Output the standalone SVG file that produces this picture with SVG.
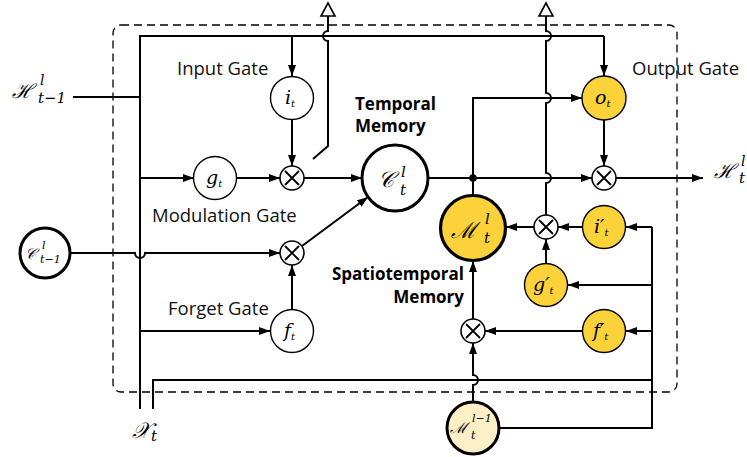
<svg xmlns="http://www.w3.org/2000/svg" width="747" height="457" viewBox="0 0 747 457">
<style>
.ln{fill:none;stroke:#000;stroke-width:2}
.ar{marker-end:url(#ah)}
.g{fill:#fff;stroke:#000;stroke-width:1.4}
.gy{fill:#FCD23A;stroke:#000;stroke-width:1.4}
.big{fill:#fff;stroke:#000;stroke-width:3}
.bigy{fill:#FCD23A;stroke:#000;stroke-width:3.2}
.lab{font-family:"Open Sans","Liberation Sans",sans-serif;font-size:18.5px;fill:#111}
.bold{font-family:"Open Sans","Liberation Sans",sans-serif;font-size:17px;font-weight:bold;fill:#000}
.m{font-family:"DejaVu Serif","Liberation Serif",serif;font-style:italic;fill:#000}
.s{font-family:"DejaVu Serif","Liberation Serif",serif;fill:#000}
</style>
<defs>
<marker id="ah" viewBox="0 0 11 8" refX="11" refY="4" markerWidth="11" markerHeight="8" orient="auto" markerUnits="userSpaceOnUse"><path d="M0,0 L11,4 L0,8 z" fill="#000"/></marker>
<g id="otimes"><circle r="12" fill="#fff" stroke="#000" stroke-width="1.6"/><path d="M-7,-7 L7,7 M7,-7 L-7,7" stroke="#000" stroke-width="1.8"/></g>
</defs>
<rect x="113" y="25" width="564" height="367" rx="8" fill="none" stroke="#000" stroke-width="1.3" stroke-dasharray="8,5"/>
<g id="connectors">
<path class="ln" d="M73,97 L140,97"/>
<path class="ln" d="M140,409 L140,36 L604,36"/>
<path class="ln ar" d="M604,36 L604,76"/>
<path class="ln ar" d="M292,36 L292,76"/>
<path class="ln ar" d="M292,120 L292,166"/>
<path class="ln ar" d="M140,178 L194,178"/>
<path class="ln ar" d="M236,178 L280,178"/>
<path class="ln ar" d="M304,178 L362,178"/>
<path class="ln" d="M313,159 L328,146 L328,41 A5,5 0 0 1 328,31 L328,15"/>
<path d="M328,3 L321,16 L335,16 z" fill="#fff" stroke="#000" stroke-width="1.6"/>
<path class="ln ar" d="M70,253 L135,253 A5,5 0 0 0 145,253 L280,253"/>
<path class="ln ar" d="M140,331 L270,331"/>
<path class="ln ar" d="M292,309 L292,265"/>
<path class="ln ar" d="M302,246 L368,197"/>
<path class="ln ar" d="M428,178 L592,178"/>
<path class="ln ar" d="M473,178 L473,98 L582,98"/>
<path class="ln" d="M473,178 L473,196"/>
<circle cx="473" cy="178" r="3.8" fill="#000"/>
<path class="ln ar" d="M604,120 L604,166"/>
<path class="ln ar" d="M616,178 L703,178"/>
<path class="ln" d="M546,215 L546,183 A5,5 0 0 0 546,173 L546,103 A5,5 0 0 0 546,93 L546,41 A5,5 0 0 0 546,31 L546,15"/>
<path d="M546,3 L539,16 L553,16 z" fill="#fff" stroke="#000" stroke-width="1.6"/>
<path class="ln ar" d="M582,227 L558,227"/>
<path class="ln ar" d="M534,227 L506,227"/>
<path class="ln ar" d="M546,263 L546,239"/>
<path class="ln" d="M652,227 L652,428 L499,428"/>
<path class="ln ar" d="M652,227 L626,227"/>
<path class="ln ar" d="M652,285 L568,285"/>
<path class="ln ar" d="M652,331 L626,331"/>
<path class="ln ar" d="M582,331 L485,331"/>
<path class="ln ar" d="M473,319 L473,261"/>
<path class="ln ar" d="M473,402 L473,385 A5,5 0 0 0 473,375 L473,343"/>
<path class="ln" d="M153,409 L153,380 L652,380"/>
</g>
<g id="inputs">
<text class="m" font-size="20" x="12" y="98">ℋ<tspan font-size="14" x="40" y="85">l</tspan><tspan font-size="15" x="38" y="103">t</tspan><tspan class="s" font-size="15">−1</tspan></text>
<text class="m" font-size="22" x="132" y="438">𝒳<tspan font-size="15" dy="3">t</tspan></text>
</g>
<g id="node-Cprev"><circle class="big" cx="45" cy="253" r="25"/>
<text class="m" font-size="15" x="25" y="259">𝒞<tspan font-size="11" x="42" y="249">l</tspan><tspan font-size="11" x="40" y="263">t</tspan><tspan class="s" font-size="11">−1</tspan></text></g>
<g id="node-it"><circle class="g" cx="292" cy="98" r="21.5"/><text class="m" font-size="19" x="285" y="104">i<tspan font-size="10" dy="3">t</tspan></text></g>
<g id="node-gt"><circle class="g" cx="215" cy="178" r="21.5"/><text class="m" font-size="19" x="206" y="184">g<tspan font-size="10" dy="3">t</tspan></text></g>
<g id="node-ft"><circle class="g" cx="292" cy="331" r="21.5"/><text class="m" font-size="19" x="284" y="337">f<tspan font-size="10" dy="3">t</tspan></text></g>
<g id="node-ot"><circle class="gy" cx="604" cy="98" r="22"/><text class="m" font-size="19" x="595" y="104">o<tspan font-size="10" dy="3">t</tspan></text></g>
<g id="node-it2"><circle class="gy" cx="604" cy="227" r="21.5"/><text class="m" font-size="19" x="594" y="233">i′<tspan font-size="10" dy="3">t</tspan></text></g>
<g id="node-gt2"><circle class="gy" cx="546" cy="285" r="21.5"/><text class="m" font-size="19" x="533" y="291">g′<tspan font-size="10" dy="3">t</tspan></text></g>
<g id="node-ft2"><circle class="gy" cx="604" cy="331" r="21.5"/><text class="m" font-size="19" x="593" y="337">f′<tspan font-size="10" dy="3">t</tspan></text></g>
<g id="node-Ct"><circle class="big" cx="395" cy="178" r="33"/>
<text class="m" font-size="22" x="378" y="187">𝒞<tspan font-size="15" x="401" y="177">l</tspan><tspan font-size="15" x="400" y="195">t</tspan></text></g>
<g id="node-Mt"><circle class="bigy" cx="473" cy="228" r="32.5"/>
<text class="m" font-size="22" x="451" y="238">ℳ<tspan font-size="15" x="485" y="224">l</tspan><tspan font-size="15" x="484" y="243">t</tspan></text></g>
<g id="node-Mprev"><circle fill="#FDF0C6" stroke="#000" stroke-width="3" cx="473" cy="428" r="26"/>
<text class="m" font-size="15" x="450" y="433">ℳ<tspan font-size="11" x="472" y="422">l</tspan><tspan class="s" font-size="11">−1</tspan><tspan font-size="11" x="471" y="439">t</tspan></text></g>
<g id="ops">
<use href="#otimes" x="292" y="178"/>
<use href="#otimes" x="292" y="253"/>
<use href="#otimes" x="604" y="178"/>
<use href="#otimes" x="546" y="227"/>
<use href="#otimes" x="473" y="331"/>
</g>
<g id="output"><text class="m" font-size="20" x="714" y="178">ℋ<tspan font-size="14" x="741" y="166">l</tspan><tspan font-size="15" x="739" y="183">t</tspan></text></g>
<g id="labels">
<text class="lab" x="177" y="75">Input Gate</text>
<text class="lab" x="152" y="222">Modulation Gate</text>
<text class="lab" x="168" y="315">Forget Gate</text>
<text class="lab" x="632" y="75">Output Gate</text>
<text class="bold" x="355" y="110">Temporal</text>
<text class="bold" x="355" y="132">Memory</text>
<text class="bold" x="464" y="280" text-anchor="end">Spatiotemporal</text>
<text class="bold" x="464" y="303" text-anchor="end">Memory</text>
</g>
</svg>
